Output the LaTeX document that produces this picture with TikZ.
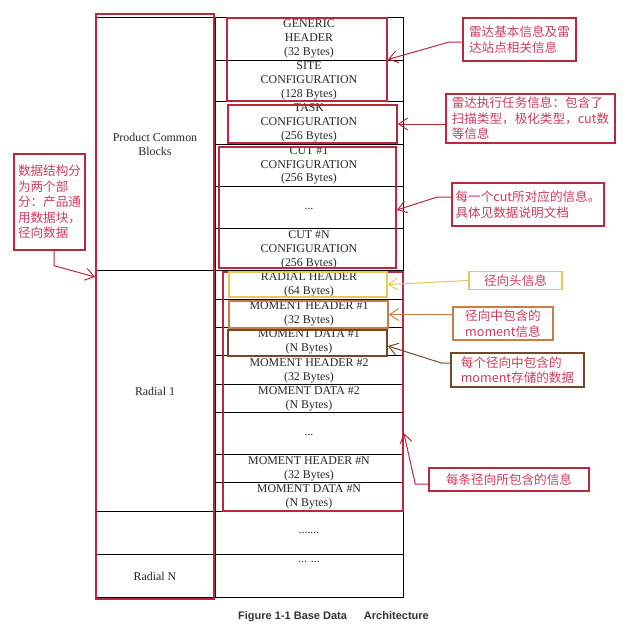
\documentclass[tikz,border=0pt]{standalone}
\usepackage{fontspec}
\setmainfont{Liberation Serif}
\newfontfamily\cjkfont{Noto Sans CJK SC}
\newfontfamily\capfont{Liberation Sans}
\usetikzlibrary{arrows.meta}
\definecolor{hlred}{RGB}{185,40,60}
\definecolor{hlyellow}{RGB}{228,200,90}
\definecolor{hlorange}{RGB}{200,125,70}
\definecolor{hlbrown}{RGB}{115,72,40}
\definecolor{notetext}{RGB}{200,60,95}
\tikzset{
  cell/.style={align=center, inner sep=0pt, text=black!85, font=\fontsize{11.9}{13.7}\selectfont},
  hlbox/.style={draw=#1, line width=1.6pt, inner sep=0pt},
  notebox/.style={draw=#1, line width=1.4pt, align=left, inner sep=3pt, text=notetext, font=\cjkfont\fontsize{12.6}{15.6}\selectfont},
  pointer/.style={draw=#1, line width=1pt, -{Straight Barb[length=9pt,width=12pt]}},
}

\begin{document}
\begin{tikzpicture}[x=1pt,y=-1pt]
		\useasboundingbox (0,0) rectangle (640,633);
		%%%%% TABLE %%%%%
		\draw[line width=0.8pt] (96,17) rectangle (403,597);
		\draw[line width=0.8pt] (215,17) -- (215,597);
		\foreach \y in {60,101,144,186,228,299,327,355.5,384,412,454,482}
			\draw[line width=0.8pt] (215,\y) -- (403,\y);
		\foreach \y in {270,511,554}
			\draw[line width=0.8pt] (96,\y) -- (403,\y);
		
		\node[cell] (pcb) at (155,144.5) {Product Common\\Blocks};
		\node[cell] (radone) at (155,391) {Radial 1};
		\node[cell] (radn) at (155,576) {Radial N};
		
		\node[cell] (generic) at (309,39) {GENERIC\\HEADER\\(32 Bytes)};
		\node[cell] (site) at (309,81) {SITE\\CONFIGURATION\\(128 Bytes)};
		\node[cell] (task) at (309,123) {TASK\\CONFIGURATION\\(256 Bytes)};
		\node[cell] (cutone) at (309,165.5) {CUT \#1\\CONFIGURATION\\(256 Bytes)};
		\node[cell] (cutdots) at (309,209) {...};
		\node[cell] (cutn) at (309,250) {CUT \#N\\CONFIGURATION\\(256 Bytes)};
		
		\node[cell] (radhdr) at (309,285) {RADIAL HEADER\\(64 Bytes)};
		\node[cell] (mhone) at (309,314) {MOMENT HEADER \#1\\(32 Bytes)};
		\node[cell] (mdone) at (309,342) {MOMENT DATA \#1\\(N Bytes)};
		\node[cell] (mhtwo) at (309,370.5) {MOMENT HEADER \#2\\(32 Bytes)};
		\node[cell] (mdtwo) at (309,398.5) {MOMENT DATA \#2\\(N Bytes)};
		\node[cell] (rdots) at (309,435) {...};
		\node[cell] (mhn) at (309,468.5) {MOMENT HEADER \#N\\(32 Bytes)};
		\node[cell] (mdn) at (309,497) {MOMENT DATA \#N\\(N Bytes)};
		\node[cell] (moredots) at (309,533) {.......};
		\node[cell] (lastdots) at (309,562) {... ...};
		
		%%%%% HIGHLIGHTS %%%%%
		\node[hlbox=hlred, minimum width=118pt, minimum height=585pt] (hlleft) at (155,306.5) {};
		\node[hlbox=hlred, minimum width=160pt, minimum height=83pt] (hlgs) at (307,59.5) {};
		\node[hlbox=hlred, minimum width=169pt, minimum height=38pt] (hltask) at (312.5,124) {};
		\node[hlbox=hlred, minimum width=177pt, minimum height=121pt] (hlcut) at (307.5,207.5) {};
		\node[hlbox=hlred, minimum width=180pt, minimum height=239pt] (hlrad) at (313,391.5) {};
		\node[hlbox=hlyellow, minimum width=158pt, minimum height=25pt] (hlrh) at (308,284.5) {};
		\node[hlbox=hlorange, minimum width=159pt, minimum height=27pt] (hlmh) at (308.5,314.5) {};
		\node[hlbox=hlbrown, minimum width=159pt, minimum height=26pt] (hlmd) at (307.5,343) {};
		
		%%%%% NOTES %%%%%
		\node[notebox=hlred, minimum width=113pt, minimum height=43pt] (note1) at (519.5,39.5) {雷达基本信息及雷\\达站点相关信息};
		\node[notebox=hlred, minimum width=169pt, minimum height=49pt] (note2) at (530.5,118.5) {雷达执行任务信息：包含了\\扫描类型，极化类型，cut数\\等信息};
		\node[notebox=hlred, minimum width=152pt, minimum height=43pt] (note3) at (528,204.5) {每一个cut所对应的信息。\\具体见数据说明文档};
		\node[notebox=hlyellow, minimum width=93pt, minimum height=17pt] (note4) at (515.5,280.5) {径向头信息};
		\node[notebox=hlorange, minimum width=100pt, minimum height=33pt] (note5) at (503,323.5) {径向中包含的\\moment信息};
		\node[notebox=hlbrown, minimum width=133pt, minimum height=34pt] (note6) at (517.5,370) {每个径向中包含的\\moment存储的数据};
		\node[notebox=hlred, minimum width=160pt, minimum height=23pt] (note7) at (509,479.5) {每条径向所包含的信息};
		\node[notebox=hlred, minimum width=71pt, minimum height=96pt] (note8) at (49.5,202) {数据结构分\\为两个部\\分：产品通\\用数据块，\\径向数据};
		
		\draw[pointer=hlred] ([yshift=-2.5pt]note1.west) -- ++(-13,0) -- (hlgs.east);
		\draw[pointer=hlred] (note2.west |- hltask.east) -- (hltask.east);
		\draw[pointer=hlred] ([yshift=7.5pt]note3.west) -- ++(-14,0) -- ([yshift=-2.5pt]hlcut.east);
		\draw[pointer=hlyellow] (note4.west) -- (hlrh.east);
		\draw[pointer=hlorange] (note5.west |- hlmh.east) -- (hlmh.east);
		\draw[pointer=hlbrown] ([yshift=7pt]note6.west) -- ++(-9,0) -- ([yshift=-3pt]hlmd.east);
		\draw[pointer=hlred] ([yshift=-4.5pt]note7.west) -- ++(-13,0) -- ([yshift=-41.5pt]hlrad.east);
		\draw[pointer=hlred] ([xshift=4.5pt]note8.south) -- ++(0,15) -- ([yshift=29.5pt]hlleft.west);
		
		\node[anchor=west, inner sep=0pt, text=black!80, font=\capfont\bfseries\fontsize{11}{13}\selectfont] (caption) at (238,617) {Figure 1-1 Base Data\hspace{17pt}Architecture};
		%%%%% END %%%%%
\end{tikzpicture}
\end{document}
